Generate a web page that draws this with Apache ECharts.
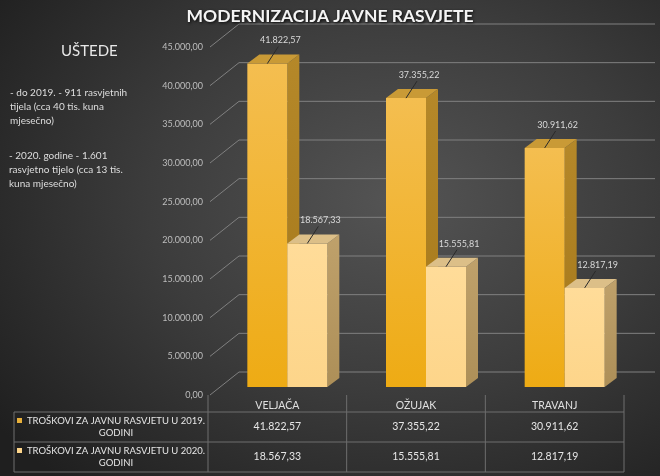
<!DOCTYPE html>
<html>
<head>
<meta charset="utf-8">
<script src="https://cdn.jsdelivr.net/npm/echarts/dist/echarts.min.js"></script>
<style>
html,body{margin:0;padding:0;}
#main{width:660px;height:476px;background:radial-gradient(ellipse 75% 80% at 60% 42%, #545454 0%, #3c3c3c 50%, #1f1f1f 100%);}
</style>
</head>
<body>
<div id="main"></div>
<script>
// data
var categories = ['VELJAČA', 'OŽUJAK', 'TRAVANJ'];
var seriesNames = ['TROŠKOVI ZA JAVNU RASVJETU U 2019. GODINI', 'TROŠKOVI ZA JAVNU RASVJETU U 2020. GODINI'];
var costs2019 = [41822.57, 37355.22, 30911.62];
var costs2020 = [18567.33, 15555.81, 12817.19];
var yTicks = [0, 5000, 10000, 15000, 20000, 25000, 30000, 35000, 40000, 45000];

var FONT = 'Lato';

// 41822.57 -> 41.822,57
function fmt(v){
    var p = v.toFixed(2).split('.');
    return p[0].replace(/\B(?=(\d{3})+(?!\d))/g, '.') + ',' + p[1];
}

var colors = [
    {front:['#f4be50','#eeab14'], side:['#b58829','#a47719'], top:'#c99a36', key:'#e8b03a'},
    {front:['#ffdc99','#fdd58a'], side:['#bfa16b','#ad8f58'], top:'#dcbf88', key:'#fdd58a'}
];

window.onload = function(){
    var myChart = echarts.init(document.getElementById('main'));

    // back wall grid lines + the slanted lines to the labels
    function renderGrid(params, api){
        var cs = params.coordSys;
        var y = api.coord([0, api.value(1)])[1];
        var st = {stroke:'#808080', lineWidth:1};
        return {
            type:'group',
            children:[
                {type:'line', shape:{x1:cs.x+2, y1:y, x2:cs.x+31, y2:y-23}, style:st},
                {type:'line', shape:{x1:cs.x+31, y1:y-23, x2:cs.x+cs.width+31, y2:y-23}, style:st}
            ]
        };
    }

    // 3d looking bar
    function barRender(si){
        return function(params, api){
            var idx = api.value(0), v = api.value(1);
            var base = api.coord([idx, 0]);
            var top = api.coord([idx, v]);
            var w = 40, dx = 12, dy = 9;
            var x0 = base[0] + 10 - w + si*w;
            var x1 = x0 + w;
            var yb = base[1] - 8, yt = top[1] - 8;
            var c = colors[si];
            var cx = x0 + w/2;
            return {
                type:'group',
                children:[
                    {type:'polygon', shape:{points:[[x1,yt],[x1+dx,yt-dy],[x1+dx,yb-dy],[x1,yb]]},
                        style:{fill:new echarts.graphic.LinearGradient(0,0,0,1,[{offset:0,color:c.side[0]},{offset:1,color:c.side[1]}])}},
                    {type:'rect', shape:{x:x0, y:yt, width:w, height:yb-yt},
                        style:{fill:new echarts.graphic.LinearGradient(0,0,0,1,[{offset:0,color:c.front[0]},{offset:1,color:c.front[1]}])}},
                    {type:'polygon', shape:{points:[[x0,yt],[x0+dx,yt-dy],[x1+dx,yt-dy],[x1,yt]]},
                        style:{fill:c.top}},
                    {type:'line', shape:{x1:cx, y1:yt, x2:cx+11, y2:yt-17}, style:{stroke:'#2a2a2a', lineWidth:1}},
                    {type:'text', style:{text:fmt(v), x:cx+13, y:yt-23, align:'center', verticalAlign:'middle',
                        fill:'#d9d9d9', fontSize:9, fontFamily:FONT}}
                ]
            };
        };
    }

    // data table under the chart
    function renderTable(params, api){
        var cs = params.coordSys;
        var i = api.value(0);
        var c = api.coord([i, 0]);
        var band = api.size([1, 0])[0];
        var y0 = c[1];
        var left = c[0] - band/2;
        var st = {stroke:'#6e6e6e', lineWidth:1};
        var ch = [];
        ch.push({type:'line', shape:{x1:left, y1:y0, x2:left, y2:y0+77}, style:st});
        if (i === categories.length - 1) {
            ch.push({type:'line', shape:{x1:left+band, y1:y0, x2:left+band, y2:y0+77}, style:st});
        }
        var vals = [costs2019[i], costs2020[i]];
        for (var r = 0; r < 2; r++) {
            ch.push({type:'text', style:{text:fmt(vals[r]), x:c[0], y:y0+32+r*30, align:'center', verticalAlign:'middle',
                fill:'#e6e6e6', fontSize:10.5, fontFamily:FONT}});
        }
        if (i === 0) {
            var xl = 14, xr = cs.x + cs.width;
            for (var k = 0; k < 3; k++) {
                ch.push({type:'line', shape:{x1:xl, y1:y0+17+k*30, x2:xr, y2:y0+17+k*30}, style:st});
            }
            ch.push({type:'line', shape:{x1:xl, y1:y0+17, x2:xl, y2:y0+77}, style:st});
            for (var s = 0; s < seriesNames.length; s++) {
                ch.push({type:'rect', shape:{x:xl+3, y:y0+23+s*30, width:5, height:5}, style:{fill:colors[s].key}});
                ch.push({type:'text', style:{text:seriesNames[s].replace(' GODINI', '\nGODINI'),
                    x:(xl+left)/2+5, y:y0+32+s*30, align:'center', verticalAlign:'middle', lineHeight:12,
                    fill:'#e6e6e6', fontSize:9.5, fontFamily:FONT}});
            }
        }
        return {type:'group', children:ch};
    }

    var option = {
        animation:false,
        textStyle:{fontFamily:FONT},
        title:{
            text:'MODERNIZACIJA JAVNE RASVJETE',
            left:'center', top:2,
            textStyle:{color:'#f4f4f4', fontSize:17.5, fontWeight:'bold', fontFamily:FONT,
                textShadowColor:'rgba(0,0,0,0.85)', textShadowBlur:3, textShadowOffsetX:1, textShadowOffsetY:1}
        },
        graphic:[
            {type:'text', left:61, top:44, style:{text:'UŠTEDE', fill:'#e8e8e8', fontSize:15, fontFamily:FONT}},
            {type:'text', left:10, top:86, style:{text:'- do 2019. - 911 rasvjetnih\ntijela (cca 40 tis. kuna\nmjesečno)',
                fill:'#dedede', fontSize:10, lineHeight:14, fontFamily:FONT}},
            {type:'text', left:9, top:149, style:{text:'- 2020. godine - 1.601\nrasvjetno tijelo (cca 13 tis.\nkuna mjesečno)',
                fill:'#dedede', fontSize:10, lineHeight:14, fontFamily:FONT}}
        ],
        grid:{left:208, right:36, top:47, bottom:81},
        xAxis:{
            type:'category',
            data:categories,
            axisLine:{show:false},
            axisTick:{show:false},
            axisLabel:{color:'#e0e0e0', fontSize:10.5, margin:5, fontFamily:FONT}
        },
        yAxis:{
            type:'value',
            min:0,
            max:yTicks[yTicks.length-1],
            interval:yTicks[1]-yTicks[0],
            axisLine:{show:false},
            axisTick:{show:false},
            splitLine:{show:false},
            axisLabel:{color:'#bdbdbd', fontSize:9, margin:5, fontFamily:FONT, formatter:function(v){return fmt(v);}}
        },
        series:[
            {type:'custom', name:'grid', silent:true, clip:false, renderItem:renderGrid,
                data:yTicks.map(function(v){return [0, v];})},
            {type:'custom', name:seriesNames[0], silent:true, clip:false, renderItem:barRender(0),
                data:costs2019.map(function(v, i){return [i, v];})},
            {type:'custom', name:seriesNames[1], silent:true, clip:false, renderItem:barRender(1),
                data:costs2020.map(function(v, i){return [i, v];})},
            {type:'custom', name:'table', silent:true, clip:false, renderItem:renderTable,
                data:categories.map(function(c, i){return [i, 0];})}
        ]
    };
    myChart.setOption(option);
};
</script>
</body>
</html>
